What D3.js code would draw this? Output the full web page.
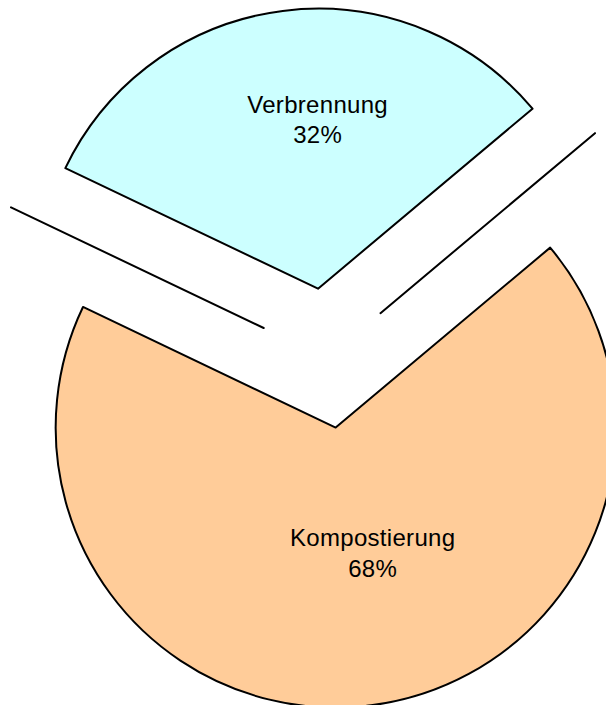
<!DOCTYPE html>
<meta charset="utf-8">
<head>
    <style>
        body{
            margin: 0;
            background-color: #ffffff;
        }
        svg{
            display: block;
        }
        .label text{
            font-family: "Liberation Sans", Arial, sans-serif;
            font-size: 24px;
            letter-spacing: 0.3px;
            fill: #000000;
        }
    </style>
</head>
<body>
<div id="pie"></div>

<script src="https://d3js.org/d3.v7.min.js"></script>
<script>

    // data: two empty categories sit on the slice borders
    const categories = ["Kompostierung", "", "Verbrennung", ""];
    const values = [68.2, 0, 31.8, 0];
    const colors = ["#FFCC99", "#FFFFFF", "#CCFFFF", "#FFFFFF"];

    // set the dimensions of the graph
    const width = 606,
        height = 705,
        radius = 280,
        explode = 70,
        cx = 326.85,
        cy = 358.15,
        firstAngle = 50 * Math.PI / 180;

    // distance of the label from the slice tip, and a sideways nudge
    const labelDist = {"Kompostierung": 135, "Verbrennung": 162};
    const labelShift = 20,
        lineGap = 30.5;

    const svg = d3.select("#pie")
        .append("svg")
        .attr("width", width)
        .attr("height", height)
        .append("g")
        .attr("transform", `translate(${cx}, ${cy})`);

    const data = categories.map(function(c, i) {
        return {name: c, value: values[i], color: colors[i]};
    });

    const pie = d3.pie()
        .sort(null)
        .value(function(d) { return d.value; })
        .startAngle(firstAngle)
        .endAngle(firstAngle + 2 * Math.PI);

    const arcs = pie(data);
    const total = d3.sum(values);

    const arc = d3.arc()
        .innerRadius(0)
        .outerRadius(radius);

    // offset of an exploded slice
    function shift(d, dist) {
        const a = (d.startAngle + d.endAngle) / 2;
        return [Math.sin(a) * dist, -Math.cos(a) * dist];
    }

    // slices (zero slices come out as a single radius line)
    svg.selectAll("path.slice")
        .data(arcs)
        .join("path")
        .attr("class", "slice")
        .attr("transform", function(d) {
            const o = shift(d, explode);
            return `translate(${o[0]}, ${o[1]})`;
        })
        .attr("d", arc)
        .attr("fill", function(d) { return d.data.color; })
        .attr("stroke", "#000000")
        .attr("stroke-width", 2)
        .attr("stroke-linejoin", "round");

    // labels
    const labels = svg.selectAll("g.label")
        .data(arcs.filter(function(d) { return d.data.value > 0; }))
        .join("g")
        .attr("class", "label")
        .attr("transform", function(d) {
            const o = shift(d, explode);
            const l = shift(d, labelDist[d.data.name]);
            return `translate(${o[0] + l[0] + labelShift}, ${o[1] + l[1]})`;
        });

    labels.append("text")
        .attr("text-anchor", "middle")
        .attr("y", -lineGap / 2)
        .text(function(d) { return d.data.name; });

    labels.append("text")
        .attr("text-anchor", "middle")
        .attr("y", lineGap / 2)
        .text(function(d) { return Math.round(d.data.value / total * 100) + "%"; });

</script>
</body>
